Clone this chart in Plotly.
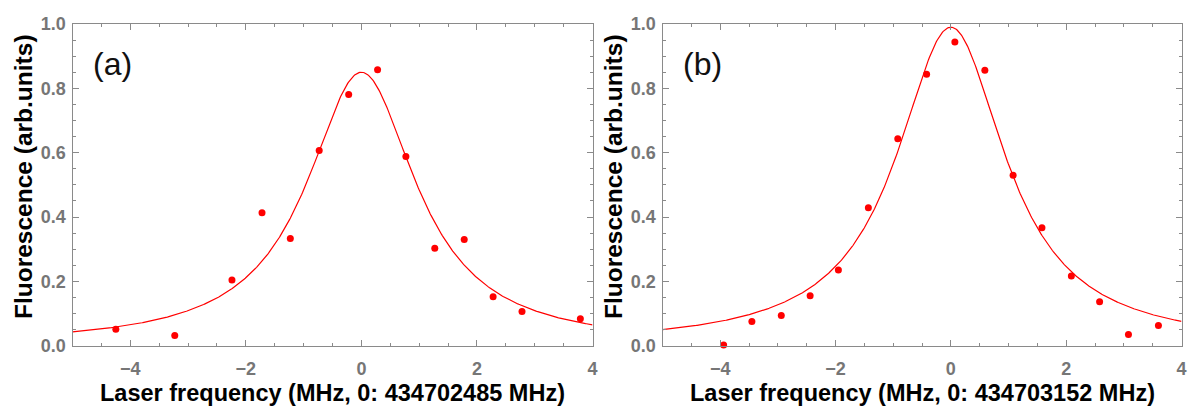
import numpy as np
import plotly.graph_objects as go

# Measured fluorescence, scan (a)
freq_a = [-4.25, -3.23, -2.24, -1.72, -1.23, -0.73, -0.22, 0.28, 0.77, 1.27, 1.78, 2.28, 2.78, 3.79]
fluo_a = [0.051, 0.032, 0.204, 0.413, 0.333, 0.607, 0.781, 0.858, 0.588, 0.303, 0.330, 0.152, 0.106, 0.084]

# Measured fluorescence, scan (b)
freq_b = [-3.94, -3.45, -2.94, -2.44, -1.95, -1.43, -0.92, -0.42, 0.07, 0.59, 1.08, 1.58, 2.09, 2.58, 3.08, 3.60]
fluo_b = [0.002, 0.075, 0.094, 0.155, 0.235, 0.429, 0.643, 0.844, 0.944, 0.856, 0.530, 0.367, 0.217, 0.137, 0.035, 0.063]

# Lorentzian fit parameters: amplitude, centre, half width (MHz)
fit_a = dict(amp=0.85, x0=0.0, hwhm=1.15)
fit_b = dict(amp=0.99, x0=0.0, hwhm=1.15)

x_titles = ["Laser frequency (MHz, 0: 434702485 MHz)",
            "Laser frequency (MHz, 0: 434703152 MHz)"]
y_title = "Fluorescence (arb.units)"
panel_labels = ["(a)", "(b)"]

W, H = 1188, 408
RED = "#ff0000"
FRAME = "#8a8a8a"
TICKFONT = dict(family="Liberation Sans", size=18, color="#767676", weight="bold")
XTITLEFONT = dict(family="Liberation Sans", size=23.5, color="#000000", weight="bold")
YTITLEFONT = dict(family="Liberation Sans", size=24.5, color="#000000", weight="bold")


def lorentz(x, amp, x0, hwhm):
    return amp / (1.0 + ((x - x0) / hwhm) ** 2)


fig = go.Figure()
xgrid = np.linspace(-5, 4, 600)

panels = [(freq_a, fluo_a, fit_a, "x", "y"), (freq_b, fluo_b, fit_b, "x2", "y2")]
for fx, fy, fit, xa, ya in panels:
    fig.add_trace(go.Scatter(x=xgrid, y=lorentz(xgrid, **fit), mode="lines",
                             line=dict(color=RED, width=1.2), xaxis=xa, yaxis=ya,
                             showlegend=False, hoverinfo="skip"))
    fig.add_trace(go.Scatter(x=fx, y=fy, mode="markers",
                             marker=dict(color=RED, size=7), xaxis=xa, yaxis=ya,
                             cliponaxis=False, showlegend=False))

# plot-area boxes in pixels
boxes = [(72.5, 592.5), (662.5, 1181.5)]
y_top, y_bot = 24.0, 345.7
ydom = [1 - y_bot / H, 1 - y_top / H]

common_x = dict(range=[-5, 4], dtick=2, tick0=0, ticks="inside", ticklen=6, tickwidth=1,
                tickcolor=FRAME, showline=True, linecolor=FRAME, linewidth=1, mirror="ticks",
                showgrid=False, zeroline=False, tickfont=TICKFONT, ticklabelstandoff=7,
                automargin=False,
                minor=dict(dtick=0.5, tick0=0, ticks="inside", ticklen=3, tickcolor=FRAME,
                           showgrid=False))
common_y = dict(range=[0, 1], dtick=0.2, tick0=0, ticks="inside", ticklen=6, tickwidth=1,
                tickcolor=FRAME, showline=True, linecolor=FRAME, linewidth=1, mirror="ticks",
                showgrid=False, zeroline=False, tickfont=TICKFONT, tickformat=".1f",
                ticklabelstandoff=2, automargin=False,
                minor=dict(dtick=0.05, tick0=0, ticks="inside", ticklen=3, tickcolor=FRAME,
                           showgrid=False))

layout = dict(width=W, height=H, margin=dict(l=0, r=0, t=0, b=0, pad=0),
              template="none", paper_bgcolor="white", plot_bgcolor="white")
layout["xaxis"] = dict(common_x, domain=[boxes[0][0] / W, boxes[0][1] / W], anchor="y")
layout["yaxis"] = dict(common_y, domain=ydom, anchor="x")
layout["xaxis2"] = dict(common_x, domain=[boxes[1][0] / W, boxes[1][1] / W], anchor="y2")
layout["yaxis2"] = dict(common_y, domain=ydom, anchor="x2")
fig.update_layout(**layout)

annotations = []
for i, (l, r) in enumerate(boxes):
    cx = (l + r) / 2
    annotations.append(dict(text=x_titles[i], x=cx / W, y=1 - 393 / H, xref="paper", yref="paper",
                            xanchor="center", yanchor="middle", showarrow=False, font=XTITLEFONT))
    annotations.append(dict(text=y_title, x=(l - 49.5) / W, y=1 - 177 / H, xref="paper",
                            yref="paper", xanchor="center", yanchor="middle", textangle=-90,
                            showarrow=False, font=YTITLEFONT))
    annotations.append(dict(text=panel_labels[i], x=(l + 40) / W, y=1 - 64 / H, xref="paper",
                            yref="paper", xanchor="center", yanchor="middle", showarrow=False,
                            font=dict(family="Liberation Sans", size=32, color="#111111")))
fig.update_layout(annotations=annotations)

fig.write_html("out.html")
